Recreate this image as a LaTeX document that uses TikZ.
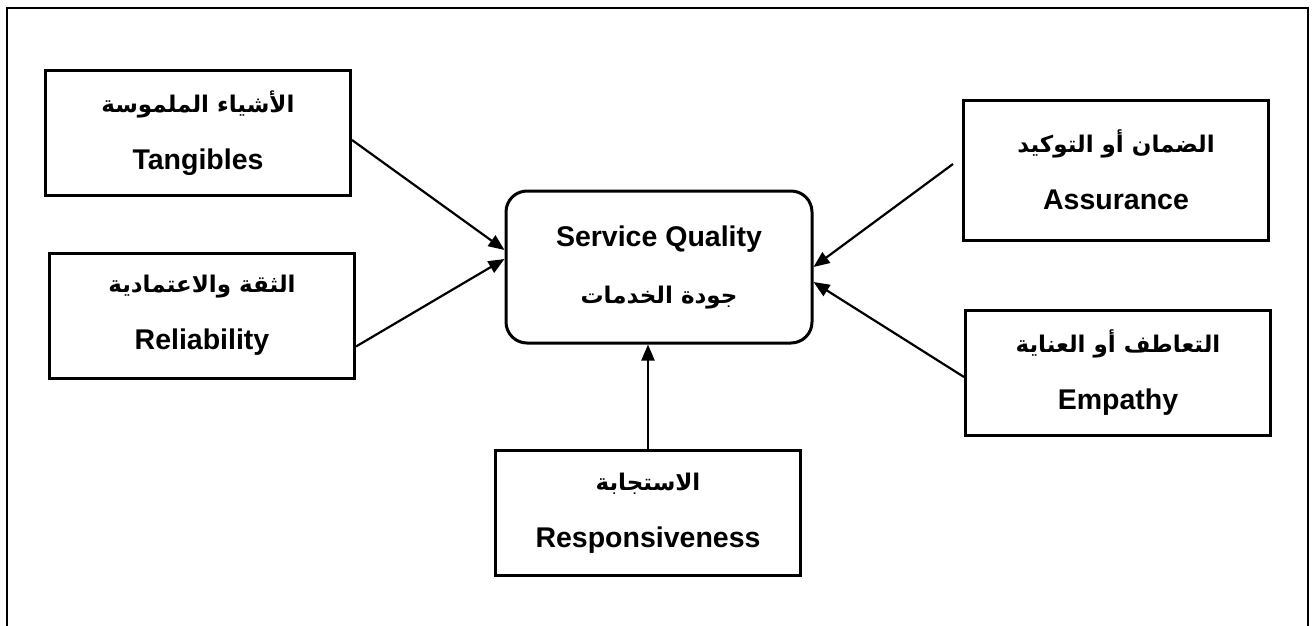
\documentclass[tikz,border=0pt]{standalone}
\usepackage{fontspec}
\setmainfont{Liberation Sans}
\newfontfamily\arabicfont[Script=Arabic]{DejaVu Sans}
\TeXXeTstate=1
\usetikzlibrary{arrows.meta}
\newcommand{\artext}[1]{{\arabicfont\fontsize{23}{57}\selectfont\beginR #1\endR}}

\begin{document}
\begin{tikzpicture}[x=1pt, y=-1pt,
  factor/.style={shape=rectangle, draw, line width=3pt, minimum width=305pt, minimum height=125pt, align=center, font=\fontsize{28.5}{57}\selectfont\bfseries},
  arr/.style={-{Triangle[length=16pt, width=13pt]}, line width=2.2pt}]
\useasboundingbox (0, 0) rectangle (1314, 626);
% open frame round the model
\draw [line width=2.8pt] (7, 626) -- (7, 8) -- (1308, 8) -- (1308, 626);

\node at (659, 267) [factor, rounded corners=21pt, minimum width=306pt, minimum height=152pt] (sq) {Service Quality\\\artext{جودة الخدمات}};
\node at (198, 133) [factor] (tang) {\artext{الأشياء الملموسة}\\Tangibles};
\node at (202, 315.5) [factor] (rel) {\artext{الثقة والاعتمادية}\\Reliability};
\node at (1116, 170) [factor, minimum height=140pt] (assur) {\artext{الضمان أو التوكيد}\\Assurance};
\node at (1118, 373) [factor] (emp) {\artext{التعاطف أو العناية}\\Empathy};
\node at (648, 513) [factor] (resp) {\artext{الاستجابة}\\Responsiveness};

\draw [arr] ([yshift=-7pt]tang.east) to ([yshift=17pt]sq.west);
\draw [arr] ([yshift=-31pt]rel.east) to ([yshift=8pt]sq.west);
\draw [arr] ([xshift=-9pt, yshift=6pt]assur.west) to (sq.east);
\draw [arr] ([yshift=-4pt]emp.west) to ([yshift=-15pt]sq.east);
\draw [arr] (resp.north) to (resp.north |- sq.south);
\end{tikzpicture}
\end{document}
